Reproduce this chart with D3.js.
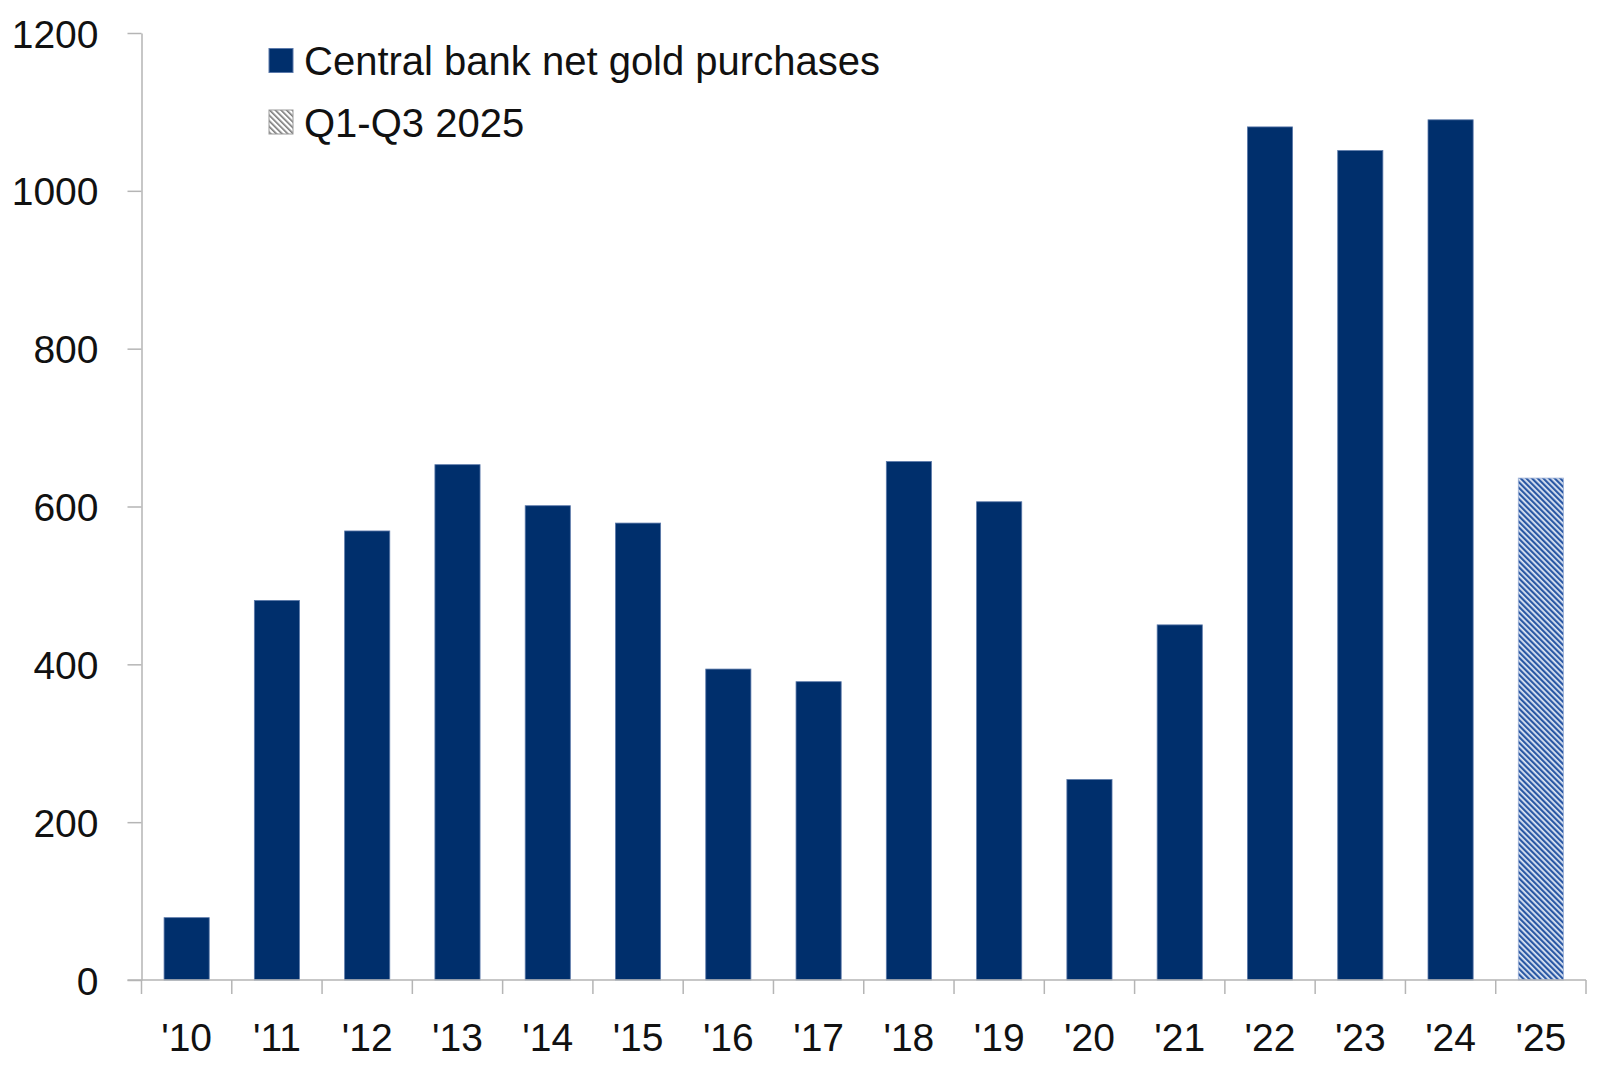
<!DOCTYPE html>
<html>
<head>
<meta charset="utf-8">
<script src="https://cdn.jsdelivr.net/npm/d3@7"></script>
<style>
    body { margin: 0; background: #fff; }
    text { font-family: "Liberation Sans", Arial, sans-serif; fill: #111; }
</style>
</head>
<body>
<div id="chart"></div>
<script>
// Data (tonnes)
const years = ["'10", "'11", "'12", "'13", "'14", "'15", "'16", "'17", "'18", "'19", "'20", "'21", "'22", "'23", "'24", "'25"];
const purchases = [79, 481, 569, 653, 601, 579, 394, 378, 657, 606, 254, 450, 1081, 1051, 1090, 636];
const partialYear = ["'25"];
const yTicks = [0, 200, 400, 600, 800, 1000, 1200];
const legendLabels = ["Central bank net gold purchases", "Q1-Q3 2025"];

const width = 1600;
const height = 1070;
const margin = { top: 33, right: 14, bottom: 90, left: 141.5 };
const navy = '#002f6c';

const svg = d3.select('#chart')
    .append('svg')
    .attr('width', width)
    .attr('height', height);

// Hatch patterns
const defs = svg.append('defs');
defs.append('pattern')
    .attr('id', 'hatch-blue')
    .attr('patternUnits', 'userSpaceOnUse')
    .attr('width', 4)
    .attr('height', 4)
    .attr('patternTransform', 'rotate(-45)')
    .call(p => {
        p.append('rect').attr('width', 4).attr('height', 4).attr('fill', '#dfe7f4');
        p.append('rect').attr('width', 2.2).attr('height', 4).attr('fill', '#2a58a4');
    });
defs.append('pattern')
    .attr('id', 'hatch-gray')
    .attr('patternUnits', 'userSpaceOnUse')
    .attr('width', 4)
    .attr('height', 4)
    .attr('patternTransform', 'rotate(-45)')
    .call(p => {
        p.append('rect').attr('width', 4).attr('height', 4).attr('fill', '#fff');
        p.append('rect').attr('width', 1.6).attr('height', 4).attr('fill', '#777');
    });

// Scales
const xScale = d3.scaleBand()
    .domain(years)
    .range([margin.left, width - margin.right])
    .paddingInner(0.5)
    .paddingOuter(0.25);

const yScale = d3.scaleLinear()
    .domain([0, 1200])
    .range([height - margin.bottom, margin.top]);

const step = xScale.step();
const baseY = yScale(0);

// Bars
svg.append('g')
    .selectAll('rect')
    .data(years.map((y, i) => ({ year: y, value: purchases[i] })))
    .enter()
    .append('rect')
    .attr('x', d => xScale(d.year))
    .attr('y', d => yScale(d.value))
    .attr('width', xScale.bandwidth())
    .attr('height', d => baseY - yScale(d.value))
    .attr('fill', d => partialYear.includes(d.year) ? 'url(#hatch-blue)' : navy)
    .attr('stroke', d => partialYear.includes(d.year) ? '#9bb0d6' : '#5b79aa')
    .attr('stroke-width', 0.8);

// Y axis
const yAxis = d3.axisLeft(yScale)
    .tickValues(yTicks)
    .tickFormat(d3.format('d'))
    .tickSize(14)
    .tickSizeOuter(0)
    .tickPadding(29);
const yG = svg.append('g')
    .attr('transform', `translate(${margin.left}, 0)`)
    .call(yAxis);
yG.selectAll('path, line').attr('stroke', '#b5b5b5').attr('stroke-width', 1.5);
yG.selectAll('text')
    .style('font-family', '"Liberation Sans", Arial, sans-serif')
    .style('font-size', '39px')
    .attr('fill', '#111')
    .attr('dy', '0.36em');

// X axis: baseline, boundary ticks and labels
const xG = svg.append('g');
xG.append('line')
    .attr('x1', margin.left - 14)
    .attr('x2', width - margin.right)
    .attr('y1', baseY)
    .attr('y2', baseY)
    .attr('stroke', '#b5b5b5')
    .attr('stroke-width', 1.5);

const boundaries = years.map(y => xScale(y) - step * 0.25).concat([width - margin.right]);
xG.selectAll('.xtick')
    .data(boundaries)
    .enter()
    .append('line')
    .attr('class', 'xtick')
    .attr('x1', d => d)
    .attr('x2', d => d)
    .attr('y1', baseY)
    .attr('y2', baseY + 14)
    .attr('stroke', '#b5b5b5')
    .attr('stroke-width', 1.5);

xG.selectAll('.xlabel')
    .data(years)
    .enter()
    .append('text')
    .attr('class', 'xlabel')
    .attr('x', d => xScale(d) + xScale.bandwidth() / 2)
    .attr('y', 1050.5)
    .attr('text-anchor', 'middle')
    .style('font-size', '39px')
    .text(d => d);

// Legend
const legend = svg.append('g');
const legendRows = [
    { label: legendLabels[0], fill: navy, stroke: '#5b79aa', cy: 60.5 },
    { label: legendLabels[1], fill: 'url(#hatch-gray)', stroke: '#999', cy: 122 }
];
legendRows.forEach(r => {
    legend.append('rect')
        .attr('x', 269)
        .attr('y', r.cy - 12)
        .attr('width', 24)
        .attr('height', 24)
        .attr('fill', r.fill)
        .attr('stroke', r.stroke)
        .attr('stroke-width', 1);
    legend.append('text')
        .attr('x', 304)
        .attr('y', r.cy + 14.5)
        .style('font-size', '40px')
        .text(r.label);
});
</script>
</body>
</html>
